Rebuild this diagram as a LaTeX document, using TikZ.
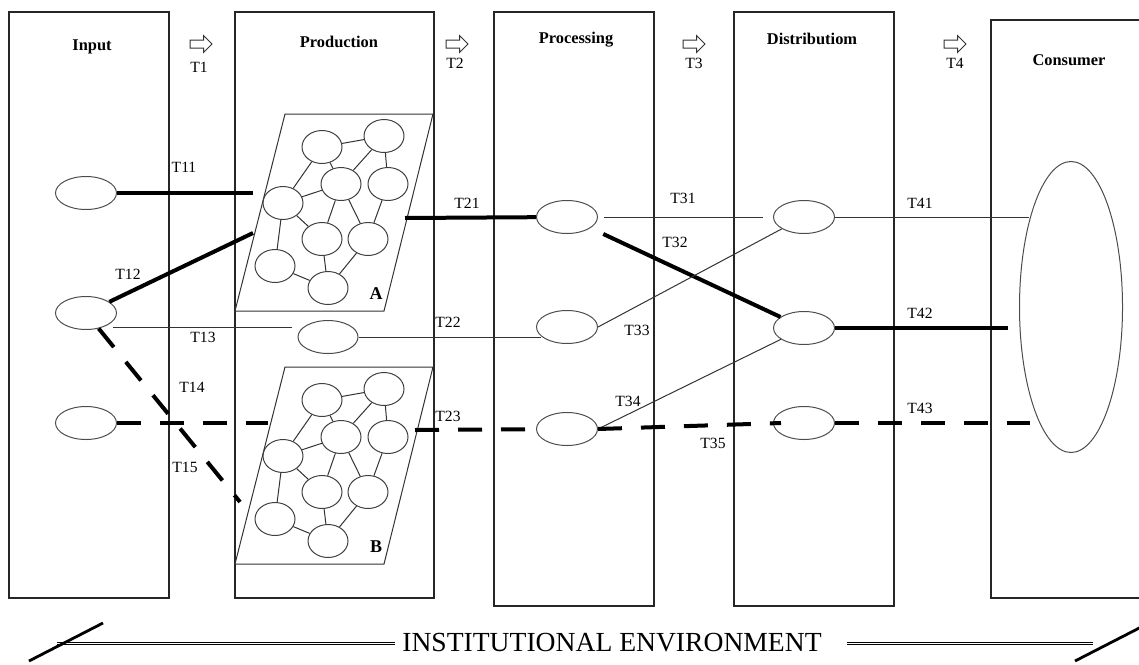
\documentclass[tikz,border=0pt]{standalone}
\usepackage{fontspec}
\setmainfont{Liberation Serif}
\usetikzlibrary{positioning,shapes.geometric,shapes.arrows}

\begin{document}
\begin{tikzpicture}[
  x=0.5pt, y=-0.5pt,
  font=\fontsize{7.8}{9}\selectfont,
  stage/.style={draw=black!85,line width=0.6pt},
  ttl/.style={font=\fontsize{8.2}{10}\selectfont\bfseries},
  actor/.style={draw=black!70,ellipse,line width=0.5pt,inner sep=0pt,minimum width=30.5pt,minimum height=16.5pt},
  firm/.style={draw=black!75,ellipse,line width=0.5pt,inner sep=0pt,minimum width=20pt,minimum height=16.5pt},
  tie/.style={draw=black!80,line width=0.5pt},
  tiethick/.style={line width=2pt},
  tiedash/.style={line width=2pt,dash pattern=on 12pt off 9.5pt},
  envline/.style={double,line width=0.65pt,double distance=0.2pt},
  flowarrow/.style={draw=black!80,single arrow,line width=0.5pt,inner xsep=0pt,inner ysep=1.75pt,
                    minimum height=11pt,single arrow head extend=2.25pt},
]
\useasboundingbox (0,0) rectangle (1139,664);

% stages of the chain
\draw[stage] (9,12) rectangle (169,598);
\draw[stage] (235,12) rectangle (434,598);
\draw[stage] (494,12) rectangle (654,606);
\draw[stage] (734,12) rectangle (894,606);
\draw[stage] (1139,20) -- (991,20) -- (991,598) -- (1139,598);
\node[ttl] (tin)   at (92,47)   {Input};
\node[ttl] (tprod) at (339,42)  {Production};
\node[ttl] (tproc) at (576,40)  {Processing};
\node[ttl] (tdist) at (812,39)  {Distributiom};
\node[ttl] (tcons) at (1069,60) {Consumer};

% flow between stages
\node[flowarrow] (a1) at (199,44) {};
\node[flowarrow] (a2) at (455,44) {};
\node[flowarrow] (a3) at (692,44) {};
\node[flowarrow] (a4) at (953,44) {};
\node (l1) at (199,67) {T1};
\node (l2) at (455,63) {T2};
\node (l3) at (694,63) {T3};
\node (l4) at (955,63) {T4};

% actors
\node[actor] (in1) at (86,193) {};
\node[actor] (in2) at (86,313) {};
\node[actor] (in3) at (86,423) {};
\node[actor,minimum width=30pt] (pm) at (328,337) {};
\node[actor] (p1) at (567,217) {};
\node[actor] (p2) at (567,327) {};
\node[actor] (p3) at (567,429) {};
\node[actor] (d1) at (804,217) {};
\node[actor] (d2) at (804,328) {};
\node[actor] (d3) at (804,423) {};
\node[draw=black!70,ellipse,line width=0.5pt,inner sep=0pt,minimum width=51.5pt,minimum height=145.5pt] (cons) at (1071,307) {};

% networks A and B
\foreach \g/\dy in {A/0,B/253}{
  \begin{scope}[shift={(0,\dy)}]
    \draw[tie] (285,114) -- (433,114) -- (384,311) -- (235,311) -- cycle;
    \node[font=\fontsize{9}{10}\selectfont\bfseries] (lbl\g) at (376,294) {\g};
    \node[firm] (\g1) at (322,147) {};
    \node[firm] (\g2) at (384,136) {};
    \node[firm] (\g3) at (341,184) {};
    \node[firm] (\g4) at (388,184) {};
    \node[firm] (\g5) at (283,203) {};
    \node[firm] (\g6) at (322,239) {};
    \node[firm] (\g7) at (368,239) {};
    \node[firm] (\g8) at (275,266) {};
    \node[firm] (\g9) at (328,288) {};
    \foreach \a/\b in {1/2,1/5,1/3,2/3,2/4,3/5,3/6,3/7,4/7,5/6,5/8,6/9,7/9,8/9}
      \draw[tie] (\g\a) -- (\g\b);
  \end{scope}
}

% free ends
\coordinate (aL1) at (253,193);
\coordinate (aL2) at (253,233);
\coordinate (aR)  at (405,218);
\coordinate (bL1) at (268,423);
\coordinate (bL2) at (240,502);
\coordinate (bR)  at (415,430);
\coordinate (dot) at (781,423);
\coordinate (cs1) at (1029,217);
\coordinate (cs2) at (1008,328);
\coordinate (cs3) at (1030,423);

% transactions
\draw[tiethick] (in1) -- (aL1);
\draw[tiethick] (in2) -- (aL2);
\draw[tie] ([shift={(27,14)}]in2.center) -- ([shift={(-36,-10)}]pm.center);
\draw[tiedash] (in2) -- (bL2);
\draw[tiedash] (in3) -- (bL1);
\draw[tiethick] (aR) -- (p1);
\draw[tie] (pm) -- (pm -| p2.200);
\draw[tiedash] (bR) -- (p3);
\draw[tie,shorten <=3pt,shorten >=5pt] (p1) -- (d1);
\draw[tiethick,shorten <=7pt] (p1) -- (d2);
\draw[tie] (p2.east) -- (d1);
\draw[tie] (p3.east) -- (d2);
\draw[tiedash] (p3.east) -- (dot);
\draw[tie] (d1) -- (cs1);
\draw[tiethick] (d2) -- (cs2);
\draw[tiedash] (d3) -- (cs3);

\node (t11) at (184,167) {T11};
\node (t12) at (128,274) {T12};
\node (t13) at (203,337) {T13};
\node (t14) at (192,387) {T14};
\node (t15) at (185,467) {T15};
\node (t21) at (467,203) {T21};
\node (t22) at (448,322) {T22};
\node (t23) at (448,416) {T23};
\node (t31) at (683,198) {T31};
\node (t32) at (675,242) {T32};
\node (t33) at (637,330) {T33};
\node (t34) at (628,401) {T34};
\node (t35) at (713,443) {T35};
\node (t41) at (920,203) {T41};
\node (t42) at (920,313) {T42};
\node (t43) at (920,408) {T43};

% institutional environment
\node[font=\fontsize{13.8}{16}\selectfont] (inst) at (612,643) {INSTITUTIONAL ENVIRONMENT};
\coordinate (envL) at (57,643);
\coordinate (envR) at (1093,643);
\draw[envline] (envL) -- (inst.west);
\draw[envline,shorten <=9pt] (inst.east) -- (envR);
\draw[line width=1.4pt] (29,661) -- (103,623);
\draw[line width=1.4pt] (1075,661) -- (1149,623);
\end{tikzpicture}
\end{document}
